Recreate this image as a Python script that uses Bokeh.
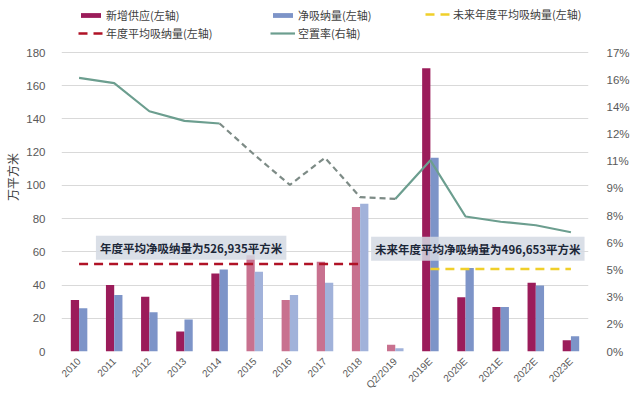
import math
from bokeh.plotting import figure
from bokeh.models import (ColumnDataSource, Range1d, LinearAxis, FixedTicker,
                          Legend, LegendItem, Label)
from bokeh.transform import dodge
from bokeh.embed import file_html
from bokeh.resources import INLINE

# ---------------- data ----------------
categories = ["2010", "2011", "2012", "2013", "2014", "2015", "2016", "2017",
              "2018", "Q2/2019", "2019E", "2020E", "2021E", "2022E", "2023E"]
new_supply = [31, 40, 33, 12, 47, 58, 31, 54, 87, 4, 170.5, 32.6, 26.8, 41.4, 6.8]
net_absorption = [26, 34, 23.6, 19.3, 49.4, 48, 34, 41.4, 89, 2, 116.6, 50.2, 26.8, 39.7, 9.2]
vacancy_pct = [15.6, 15.3, 13.7, 13.15, 13.0, 11.2, 9.5, 11.05, 8.8, 8.7,
               10.9, 7.7, 7.4, 7.2, 6.8]
hist_avg_absorption = 52.6935      # 526,935 m2 -> 万平方米
future_avg_absorption = 49.6653    # 496,653 m2 -> 万平方米
highlight_periods = ["2015", "2016", "2017", "2018", "Q2/2019"]
dashed_vacancy_span = ("2014", "Q2/2019")
left_ticks = [0, 20, 40, 60, 80, 100, 120, 140, 160, 180]
right_tick_step = 1.55
right_tick_labels = ["0%", "2%", "3%", "5%", "6%", "8%", "9%", "11%",
                     "12%", "14%", "16%", "17%"]
hist_label = "年度平均净吸纳量为526,935平方米"
future_label = "未来年度平均净吸纳量为496,653平方米"
legend_labels = ["新增供应(左轴)", "净吸纳量(左轴)", "未来年度平均吸纳量(左轴)",
                 "年度平均吸纳量(左轴)", "空置率(右轴)"]

FONT = "Noto Sans CJK SC"
LATIN = "Liberation Sans"
MAGENTA = "#9b1c5a"
MAGENTA_L = "#c8718f"
BLUE = "#7d94c8"
BLUE_L = "#a1b2da"
GREEN = "#6c9e8f"
GREEN_D = "#7d8b86"
RED = "#b01226"
YELLOW = "#f0cf2a"

# layout (pixels)
TOP = 2            # figure top -> frame top (frame also hosts the legend)
PLOT_H = 299       # height of the 0..180 data area
HEAD = 50          # legend strip inside the frame, above the 180 line
FRAME_H = PLOT_H + HEAD

y_max = max(left_ticks)
right_max = right_tick_step * (len(right_tick_labels) - 1)
scale = FRAME_H / PLOT_H

idx = list(range(len(categories)))
is_hl = [c in highlight_periods for c in categories]
src = ColumnDataSource(dict(
    x=idx,
    supply=new_supply,
    absorb=net_absorption,
    c_supply=[MAGENTA_L if h else MAGENTA for h in is_hl],
    c_absorb=[BLUE_L if h else BLUE for h in is_hl],
))

p = figure(frame_width=527, frame_height=FRAME_H, output_backend="svg",
           toolbar_location=None,
           x_range=Range1d(-0.5, len(categories) - 0.5),
           y_range=Range1d(0, y_max * scale),
           min_border_left=61, min_border_right=36, min_border_top=TOP,
           min_border_bottom=38)
p.outline_line_color = None
p.background_fill_color = "white"

bw = 0.235
r_supply = p.vbar(x=dodge("x", -bw / 2), top="supply", width=bw, source=src,
                  fill_color="c_supply", line_color=None)
r_absorb = p.vbar(x=dodge("x", bw / 2), top="absorb", width=bw, source=src,
                  fill_color="c_absorb", line_color=None)

# average lines
hist_x = [i for i, c in enumerate(categories) if c[0].isdigit() and not c.endswith("E")]
fut_x = [i for i, c in enumerate(categories) if c.endswith("E")]
r_hist = p.line(hist_x, [hist_avg_absorption] * len(hist_x), line_color=RED,
                line_width=2.5, line_dash="9 6")
r_fut = p.line(fut_x, [future_avg_absorption] * len(fut_x), line_color=YELLOW,
               line_width=2.5, line_dash="9 6")

# vacancy rate on right axis
p.extra_y_ranges = {"pct": Range1d(0, right_max * scale)}
a = categories.index(dashed_vacancy_span[0])
b = categories.index(dashed_vacancy_span[1])
r_vac = p.line(idx[:a + 1], vacancy_pct[:a + 1], y_range_name="pct",
               line_color=GREEN, line_width=2.2)
p.line(idx[a:b + 1], vacancy_pct[a:b + 1], y_range_name="pct",
       line_color=GREEN_D, line_width=2.2, line_dash="6 4")
p.line(idx[b:], vacancy_pct[b:], y_range_name="pct",
       line_color=GREEN, line_width=2.2)

# axes
p.yaxis.ticker = FixedTicker(ticks=left_ticks)
p.yaxis.axis_label = "万平方米"
p.yaxis.axis_label_text_font = FONT
p.yaxis.axis_label_text_font_size = "12px"
p.yaxis.axis_label_text_font_style = "normal"
p.yaxis.axis_label_text_color = "#404040"
p.yaxis.axis_label_standoff = 2
p.yaxis.major_label_standoff = 10

rticks = [round(k * right_tick_step, 2) for k in range(len(right_tick_labels))]
raxis = LinearAxis(y_range_name="pct", ticker=FixedTicker(ticks=rticks),
                   major_label_overrides={t: l for t, l in zip(rticks, right_tick_labels)})
p.add_layout(raxis, "right")

p.xaxis.ticker = FixedTicker(ticks=idx)
p.xaxis.major_label_overrides = {i: c for i, c in zip(idx, categories)}
p.xaxis.major_label_orientation = math.pi / 4

for ax in [p.yaxis[0], raxis, p.xaxis[0]]:
    ax.axis_line_color = None
    ax.major_tick_line_color = None
    ax.minor_tick_line_color = None
    ax.major_label_text_font = LATIN
    ax.major_label_text_font_size = "11.5px"
    ax.major_label_text_color = "#595959"
raxis.major_label_standoff = 12
p.xaxis.major_label_text_font_size = "10px"
p.xaxis.major_label_standoff = 2

p.xgrid.visible = False
p.ygrid.grid_line_color = "#d9d9d9"
p.ygrid.grid_line_width = 1

# annotation labels
for txt, xi, yv in [(hist_label, 3.19, 62.4), (future_label, 11.35, 61.8)]:
    p.add_layout(Label(x=xi, y=yv, text=txt, text_align="center",
                       text_baseline="middle", text_font=FONT,
                       text_font_size="11.5px", text_font_style="bold",
                       text_color="#1c2738", background_fill_color="#d3d9e3",
                       background_fill_alpha=0.85, padding=4))

# legend: three columns in the strip at the top of the frame
ITEM_H = 17
GAP = 2
LEG_TOP = 2.5   # below frame top
columns_spec = [
    (17, [(legend_labels[0], r_supply, 0), (legend_labels[3], r_hist, None)]),
    (209, [(legend_labels[1], r_absorb, 0), (legend_labels[4], r_vac, None)]),
    (364, [(legend_labels[2], r_fut, None)]),
]
for x0, items in columns_spec:
    h = len(items) * ITEM_H + (len(items) - 1) * GAP
    leg = Legend(items=[LegendItem(label=t, renderers=[r], index=i) for t, r, i in items],
                 orientation="vertical", location=(x0, FRAME_H - LEG_TOP - h),
                 label_text_font=FONT, label_text_font_size="11px",
                 label_text_color="#404040", glyph_width=25, glyph_height=6,
                 label_height=12, label_standoff=3, spacing=GAP, padding=0,
                 margin=0, background_fill_alpha=0, border_line_color=None)
    p.add_layout(leg, "center")

open("out.html", "w").write(file_html(p, INLINE))
